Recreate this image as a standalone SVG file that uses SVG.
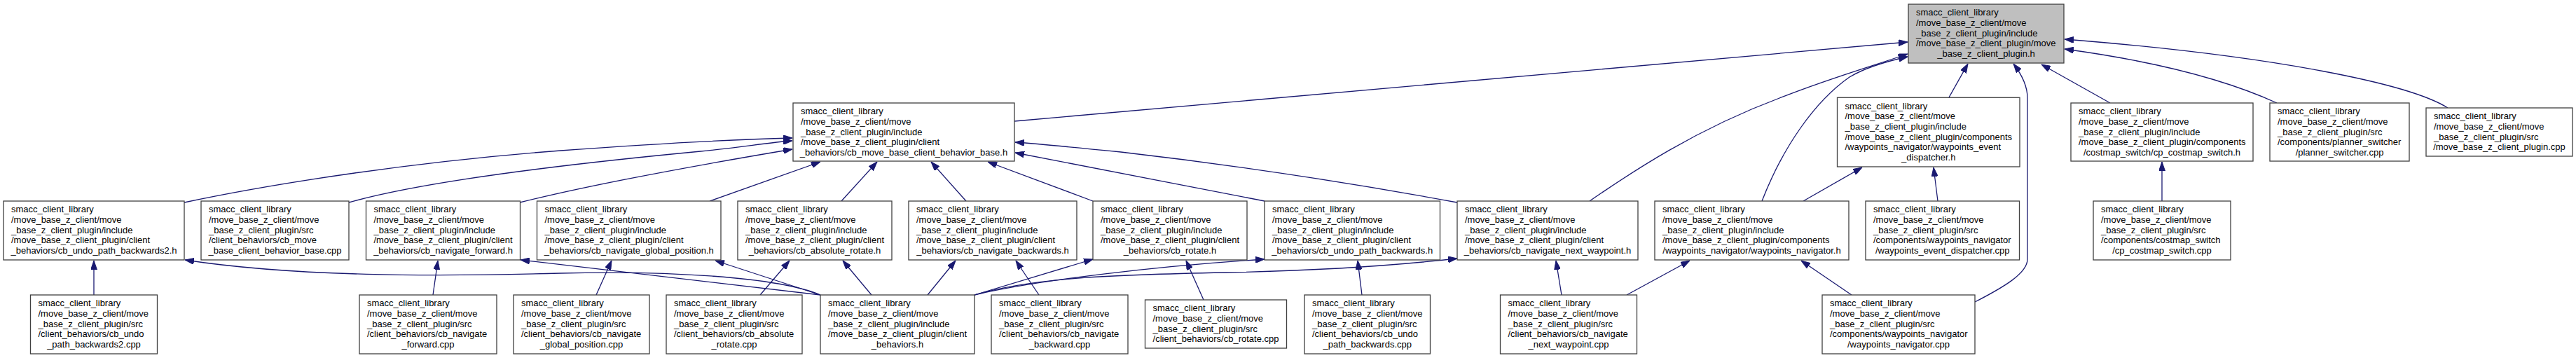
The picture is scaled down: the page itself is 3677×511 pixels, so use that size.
<svg xmlns="http://www.w3.org/2000/svg" width="3677" height="511" viewBox="0 0 3677 511">
<style>
.node rect{fill:#ffffff;stroke:#404040;stroke-width:1.3}
#n21 rect{fill:#bfbfbf}
text{font-family:"Liberation Sans",Arial,sans-serif;font-size:13px;fill:#000000}
.c{text-anchor:middle}
#edges path{fill:none;stroke:#191970;stroke-width:1.3;marker-end:url(#ah)}
</style>
<defs>
<marker id="ah" viewBox="0 0 13 9" refX="13" refY="4.5" markerWidth="13" markerHeight="9" orient="auto" markerUnits="userSpaceOnUse">
<path d="M0,0 L13,4.5 L0,9 z" fill="#191970" stroke="#191970" stroke-width="1"/>
</marker>
</defs>
<rect x="0" y="0" width="3677" height="511" fill="#ffffff"/>

<g id="edges">
<path d="M1448,173 L2723,60"/>
<path d="M2269,287 C2330,245 2420,185 2540,140 C2610,112 2680,92 2723,77"/>
<path d="M2515,287 C2545,210 2590,145 2640,110 C2665,95 2700,86 2723,81"/>
<path d="M2782,139 L2809,91"/>
<path d="M2819,431 C2860,410 2894,390 2894,370 L2894,140 C2894,120 2884,104 2874,91"/>
<path d="M3012,147 L2914,92"/>
<path d="M3250,147 C3180,115 3080,88 2947,70"/>
<path d="M3494,154 C3440,120 3250,80 2947,56"/>
<path d="M263,289 C400,260 600,230 800,215 C950,204 1050,199 1131,197"/>
<path d="M498,289 C600,260 800,235 1000,216 C1060,210 1100,203 1131,201"/>
<path d="M742,289 C850,262 1000,235 1131,213"/>
<path d="M1013,287 L1171,231"/>
<path d="M1201,287 L1252,231"/>
<path d="M1379,287 L1329,231"/>
<path d="M1560,287 L1410,231"/>
<path d="M1805,287 L1449,218"/>
<path d="M2080,289 C1950,265 1800,240 1600,217 C1530,210 1490,206 1449,203"/>
<path d="M1171,421 C1110,395 950,386 800,390 C620,395 420,395 264,371"/>
<path d="M1171,421 L743,371"/>
<path d="M1171,421 L1021,372"/>
<path d="M1244,421 L1203,372"/>
<path d="M1324,421 L1364,372"/>
<path d="M1391,421 L1560,370"/>
<path d="M1391,421 C1480,400 1650,380 1805,370"/>
<path d="M1391,421 C1480,395 1600,392 1750,389 C1900,386 2000,378 2080,369"/>
<path d="M1483,421 L1450,372"/>
<path d="M1718,428 L1693,372"/>
<path d="M1944,421 L1938,372"/>
<path d="M2229,421 L2221,372"/>
<path d="M2322,421 L2412,372"/>
<path d="M2643,421 L2571,372"/>
<path d="M2574,287 L2658,239"/>
<path d="M2766,287 L2760,239"/>
<path d="M3086,287 L3086,231"/>
<path d="M134,421 L134,372"/>
<path d="M618,421 L625,372"/>
<path d="M851,421 L873,372"/>
<path d="M1085,421 L1127,372"/>
</g>

<g id="n1" class="node"><rect x="5" y="287" width="258" height="84"/>
<text><tspan x="16" y="303.3">smacc_client_library</tspan><tspan x="16" y="318">/move_base_z_client/move</tspan><tspan x="16" y="332.6">_base_z_client_plugin/include</tspan><tspan x="16" y="347.3">/move_base_z_client_plugin/client</tspan></text>
<text class="c" x="134" y="362">_behaviors/cb_undo_path_backwards2.h</text></g>

<g id="n2" class="node"><rect x="287" y="287" width="211" height="84"/>
<text><tspan x="298" y="303.3">smacc_client_library</tspan><tspan x="298" y="318">/move_base_z_client/move</tspan><tspan x="298" y="332.6">_base_z_client_plugin/src</tspan><tspan x="298" y="347.3">/client_behaviors/cb_move</tspan></text>
<text class="c" x="392.5" y="362">_base_client_behavior_base.cpp</text></g>

<g id="n3" class="node"><rect x="522.5" y="287" width="220" height="84"/>
<text><tspan x="533.5" y="303.3">smacc_client_library</tspan><tspan x="533.5" y="318">/move_base_z_client/move</tspan><tspan x="533.5" y="332.6">_base_z_client_plugin/include</tspan><tspan x="533.5" y="347.3">/move_base_z_client_plugin/client</tspan></text>
<text class="c" x="632.5" y="362">_behaviors/cb_navigate_forward.h</text></g>

<g id="n4" class="node"><rect x="43.5" y="421" width="181" height="84"/>
<text><tspan x="54.5" y="437.3">smacc_client_library</tspan><tspan x="54.5" y="452">/move_base_z_client/move</tspan><tspan x="54.5" y="466.6">_base_z_client_plugin/src</tspan><tspan x="54.5" y="481.3">/client_behaviors/cb_undo</tspan></text>
<text class="c" x="134" y="496">_path_backwards2.cpp</text></g>

<g id="n5" class="node"><rect x="513" y="421" width="196" height="84"/>
<text><tspan x="524" y="437.3">smacc_client_library</tspan><tspan x="524" y="452">/move_base_z_client/move</tspan><tspan x="524" y="466.6">_base_z_client_plugin/src</tspan><tspan x="524" y="481.3">/client_behaviors/cb_navigate</tspan></text>
<text class="c" x="611" y="496">_forward.cpp</text></g>

<g id="n6" class="node"><rect x="1132" y="147" width="316" height="83"/>
<text><tspan x="1143" y="163.3">smacc_client_library</tspan><tspan x="1143" y="178">/move_base_z_client/move</tspan><tspan x="1143" y="192.6">_base_z_client_plugin/include</tspan><tspan x="1143" y="207.3">/move_base_z_client_plugin/client</tspan></text>
<text class="c" x="1290" y="222">_behaviors/cb_move_base_client_behavior_base.h</text></g>

<g id="n7" class="node"><rect x="766.5" y="287" width="262.5" height="84"/>
<text><tspan x="777.5" y="303.3">smacc_client_library</tspan><tspan x="777.5" y="318">/move_base_z_client/move</tspan><tspan x="777.5" y="332.6">_base_z_client_plugin/include</tspan><tspan x="777.5" y="347.3">/move_base_z_client_plugin/client</tspan></text>
<text class="c" x="897.75" y="362">_behaviors/cb_navigate_global_position.h</text></g>

<g id="n8" class="node"><rect x="1053" y="287" width="220" height="84"/>
<text><tspan x="1064" y="303.3">smacc_client_library</tspan><tspan x="1064" y="318">/move_base_z_client/move</tspan><tspan x="1064" y="332.6">_base_z_client_plugin/include</tspan><tspan x="1064" y="347.3">/move_base_z_client_plugin/client</tspan></text>
<text class="c" x="1163" y="362">_behaviors/cb_absolute_rotate.h</text></g>

<g id="n9" class="node"><rect x="733" y="421" width="194" height="84"/>
<text><tspan x="744" y="437.3">smacc_client_library</tspan><tspan x="744" y="452">/move_base_z_client/move</tspan><tspan x="744" y="466.6">_base_z_client_plugin/src</tspan><tspan x="744" y="481.3">/client_behaviors/cb_navigate</tspan></text>
<text class="c" x="830" y="496">_global_position.cpp</text></g>

<g id="n10" class="node"><rect x="951" y="421" width="194" height="84"/>
<text><tspan x="962" y="437.3">smacc_client_library</tspan><tspan x="962" y="452">/move_base_z_client/move</tspan><tspan x="962" y="466.6">_base_z_client_plugin/src</tspan><tspan x="962" y="481.3">/client_behaviors/cb_absolute</tspan></text>
<text class="c" x="1048" y="496">_rotate.cpp</text></g>

<g id="n11" class="node"><rect x="1171" y="421" width="220" height="84"/>
<text><tspan x="1182" y="437.3">smacc_client_library</tspan><tspan x="1182" y="452">/move_base_z_client/move</tspan><tspan x="1182" y="466.6">_base_z_client_plugin/include</tspan><tspan x="1182" y="481.3">/move_base_z_client_plugin/client</tspan></text>
<text class="c" x="1281" y="496">_behaviors.h</text></g>

<g id="n12" class="node"><rect x="1297" y="287" width="240" height="84"/>
<text><tspan x="1308" y="303.3">smacc_client_library</tspan><tspan x="1308" y="318">/move_base_z_client/move</tspan><tspan x="1308" y="332.6">_base_z_client_plugin/include</tspan><tspan x="1308" y="347.3">/move_base_z_client_plugin/client</tspan></text>
<text class="c" x="1417" y="362">_behaviors/cb_navigate_backwards.h</text></g>

<g id="n13" class="node"><rect x="1560" y="287" width="220" height="84"/>
<text><tspan x="1571" y="303.3">smacc_client_library</tspan><tspan x="1571" y="318">/move_base_z_client/move</tspan><tspan x="1571" y="332.6">_base_z_client_plugin/include</tspan><tspan x="1571" y="347.3">/move_base_z_client_plugin/client</tspan></text>
<text class="c" x="1670" y="362">_behaviors/cb_rotate.h</text></g>

<g id="n14" class="node"><rect x="1805" y="287" width="250.5" height="84"/>
<text><tspan x="1816" y="303.3">smacc_client_library</tspan><tspan x="1816" y="318">/move_base_z_client/move</tspan><tspan x="1816" y="332.6">_base_z_client_plugin/include</tspan><tspan x="1816" y="347.3">/move_base_z_client_plugin/client</tspan></text>
<text class="c" x="1930.25" y="362">_behaviors/cb_undo_path_backwards.h</text></g>

<g id="n15" class="node"><rect x="1415" y="421" width="195" height="84"/>
<text><tspan x="1426" y="437.3">smacc_client_library</tspan><tspan x="1426" y="452">/move_base_z_client/move</tspan><tspan x="1426" y="466.6">_base_z_client_plugin/src</tspan><tspan x="1426" y="481.3">/client_behaviors/cb_navigate</tspan></text>
<text class="c" x="1512.5" y="496">_backward.cpp</text></g>

<g id="n16" class="node"><rect x="1634.5" y="428" width="202" height="69"/>
<text><tspan x="1645.5" y="444.3">smacc_client_library</tspan><tspan x="1645.5" y="459">/move_base_z_client/move</tspan><tspan x="1645.5" y="473.6">_base_z_client_plugin/src</tspan></text>
<text class="c" x="1735.5" y="488.3">/client_behaviors/cb_rotate.cpp</text></g>

<g id="n17" class="node"><rect x="2080" y="287" width="258" height="84"/>
<text><tspan x="2091" y="303.3">smacc_client_library</tspan><tspan x="2091" y="318">/move_base_z_client/move</tspan><tspan x="2091" y="332.6">_base_z_client_plugin/include</tspan><tspan x="2091" y="347.3">/move_base_z_client_plugin/client</tspan></text>
<text class="c" x="2209" y="362">_behaviors/cb_navigate_next_waypoint.h</text></g>

<g id="n18" class="node"><rect x="1862" y="421" width="179.5" height="84"/>
<text><tspan x="1873" y="437.3">smacc_client_library</tspan><tspan x="1873" y="452">/move_base_z_client/move</tspan><tspan x="1873" y="466.6">_base_z_client_plugin/src</tspan><tspan x="1873" y="481.3">/client_behaviors/cb_undo</tspan></text>
<text class="c" x="1951.75" y="496">_path_backwards.cpp</text></g>

<g id="n19" class="node"><rect x="2141.5" y="421" width="195" height="84"/>
<text><tspan x="2152.5" y="437.3">smacc_client_library</tspan><tspan x="2152.5" y="452">/move_base_z_client/move</tspan><tspan x="2152.5" y="466.6">_base_z_client_plugin/src</tspan><tspan x="2152.5" y="481.3">/client_behaviors/cb_navigate</tspan></text>
<text class="c" x="2239" y="496">_next_waypoint.cpp</text></g>

<g id="n20" class="node"><rect x="2362" y="287" width="277" height="84"/>
<text><tspan x="2373" y="303.3">smacc_client_library</tspan><tspan x="2373" y="318">/move_base_z_client/move</tspan><tspan x="2373" y="332.6">_base_z_client_plugin/include</tspan><tspan x="2373" y="347.3">/move_base_z_client_plugin/components</tspan></text>
<text class="c" x="2500.5" y="362">/waypoints_navigator/waypoints_navigator.h</text></g>

<g id="n21" class="node"><rect x="2724" y="6" width="222" height="84"/>
<text><tspan x="2735" y="22.3">smacc_client_library</tspan><tspan x="2735" y="37">/move_base_z_client/move</tspan><tspan x="2735" y="51.6">_base_z_client_plugin/include</tspan><tspan x="2735" y="66.3">/move_base_z_client_plugin/move</tspan></text>
<text class="c" x="2835" y="81">_base_z_client_plugin.h</text></g>

<g id="n22" class="node"><rect x="2622.5" y="139.3" width="260.5" height="98.7"/>
<text><tspan x="2633.5" y="155.6">smacc_client_library</tspan><tspan x="2633.5" y="170.3">/move_base_z_client/move</tspan><tspan x="2633.5" y="184.9">_base_z_client_plugin/include</tspan><tspan x="2633.5" y="199.6">/move_base_z_client_plugin/components</tspan><tspan x="2633.5" y="214.3">/waypoints_navigator/waypoints_event</tspan></text>
<text class="c" x="2752.75" y="228.9">_dispatcher.h</text></g>

<g id="n23" class="node"><rect x="2663" y="287" width="219.5" height="84"/>
<text><tspan x="2674" y="303.3">smacc_client_library</tspan><tspan x="2674" y="318">/move_base_z_client/move</tspan><tspan x="2674" y="332.6">_base_z_client_plugin/src</tspan><tspan x="2674" y="347.3">/components/waypoints_navigator</tspan></text>
<text class="c" x="2772.75" y="362">/waypoints_event_dispatcher.cpp</text></g>

<g id="n24" class="node"><rect x="2601" y="421" width="218" height="84"/>
<text><tspan x="2612" y="437.3">smacc_client_library</tspan><tspan x="2612" y="452">/move_base_z_client/move</tspan><tspan x="2612" y="466.6">_base_z_client_plugin/src</tspan><tspan x="2612" y="481.3">/components/waypoints_navigator</tspan></text>
<text class="c" x="2710" y="496">/waypoints_navigator.cpp</text></g>

<g id="n25" class="node"><rect x="2956" y="147" width="260" height="83"/>
<text><tspan x="2967" y="163.3">smacc_client_library</tspan><tspan x="2967" y="178">/move_base_z_client/move</tspan><tspan x="2967" y="192.6">_base_z_client_plugin/include</tspan><tspan x="2967" y="207.3">/move_base_z_client_plugin/components</tspan></text>
<text class="c" x="3086" y="222">/costmap_switch/cp_costmap_switch.h</text></g>

<g id="n26" class="node"><rect x="2988" y="287" width="196" height="84"/>
<text><tspan x="2999" y="303.3">smacc_client_library</tspan><tspan x="2999" y="318">/move_base_z_client/move</tspan><tspan x="2999" y="332.6">_base_z_client_plugin/src</tspan><tspan x="2999" y="347.3">/components/costmap_switch</tspan></text>
<text class="c" x="3086" y="362">/cp_costmap_switch.cpp</text></g>

<g id="n27" class="node"><rect x="3240" y="147" width="199" height="83"/>
<text><tspan x="3251" y="163.3">smacc_client_library</tspan><tspan x="3251" y="178">/move_base_z_client/move</tspan><tspan x="3251" y="192.6">_base_z_client_plugin/src</tspan><tspan x="3251" y="207.3">/components/planner_switcher</tspan></text>
<text class="c" x="3339.5" y="222">/planner_switcher.cpp</text></g>

<g id="n28" class="node"><rect x="3463" y="154" width="209" height="69"/>
<text><tspan x="3474" y="170.3">smacc_client_library</tspan><tspan x="3474" y="185">/move_base_z_client/move</tspan><tspan x="3474" y="199.6">_base_z_client_plugin/src</tspan></text>
<text class="c" x="3567.5" y="214.3">/move_base_z_client_plugin.cpp</text></g>
</svg>
